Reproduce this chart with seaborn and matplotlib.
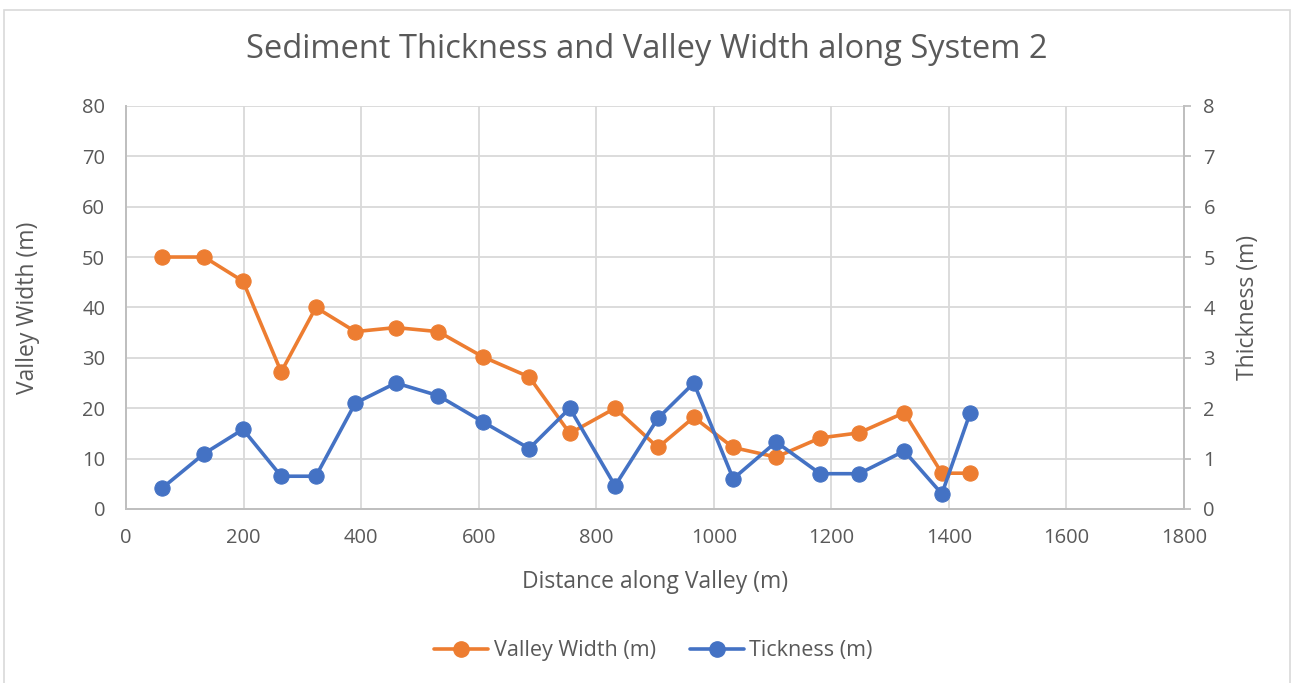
import numpy as np
import pandas as pd
import matplotlib
matplotlib.use("Agg")
import matplotlib.pyplot as plt
import seaborn as sns
from matplotlib.patches import Rectangle
from matplotlib.lines import Line2D

# Datos
distance = [61, 133, 199, 264, 323, 390, 459, 531, 607, 686, 755, 832, 905,
            966, 1033, 1106, 1181, 1247, 1324, 1388, 1436]
valley_width = [50, 50, 45.2, 27.2, 40, 35.2, 36, 35.2, 30.2, 26.2, 15, 20, 12.2,
                18.2, 12.2, 10.3, 14.1, 15.1, 19.1, 7.1, 7.1]
thickness = [0.41, 1.1, 1.58, 0.65, 0.65, 2.1, 2.5, 2.25, 1.73, 1.2, 2.0, 0.46, 1.8,
             2.5, 0.6, 1.33, 0.7, 0.7, 1.15, 0.3, 1.9]

ORANGE = "#ED7D31"
BLUE = "#4472C4"
TEXT = "#595959"
GRID = "#D9D9D9"

df = pd.DataFrame({"distance": distance, "width": valley_width, "thick": thickness})

sns.set_style("white")
plt.rcParams["font.family"] = ["Open Sans", "DejaVu Sans"]

fig = plt.figure(figsize=(12.94, 6.83), dpi=100)
ax = fig.add_axes([0.0974, 0.2548, 0.8176, 0.5902])
ax2 = ax.twinx()

sns.lineplot(data=df, x="distance", y="width", ax=ax, color=ORANGE, linewidth=2.6,
             marker="o", markersize=11, markeredgecolor=ORANGE, zorder=3)
sns.lineplot(data=df, x="distance", y="thick", ax=ax2, color=BLUE, linewidth=2.6,
             marker="o", markersize=11, markeredgecolor=BLUE, zorder=3)

ax.set_xlim(0, 1800)
ax.set_ylim(0, 80)
ax2.set_ylim(0, 8)
ax.set_xticks(np.arange(0, 1801, 200))
ax.set_yticks(np.arange(0, 81, 10))
ax2.set_yticks(np.arange(0, 9, 1))

ax.grid(True, color=GRID, linewidth=1.3)
ax.set_axisbelow(True)

for a in (ax, ax2):
    a.spines["top"].set_visible(False)
    for side in ["left", "bottom", "right"]:
        a.spines[side].set_color("#BFBFBF")
        a.spines[side].set_linewidth(1.3)

ax.tick_params(axis="y", colors=TEXT, labelsize=14.5, length=0, pad=15)
ax.tick_params(axis="x", colors=TEXT, labelsize=14.5, length=0, pad=14)
ax2.tick_params(axis="y", colors=TEXT, labelsize=14.5, length=5, width=1.3,
                color="#BFBFBF", pad=9)

ax.set_xlabel("Distance along Valley (m)", fontsize=16.5, color=TEXT)
ax.set_ylabel("Valley Width (m)", fontsize=16.5, color=TEXT)
ax2.set_ylabel("Thickness (m)", fontsize=16.5, color=TEXT)
ax.xaxis.set_label_coords(0.5, -0.152)
ax.yaxis.set_label_coords(-0.081, 0.5)
ax2.yaxis.set_label_coords(1.049, 0.5)

fig.suptitle("Sediment Thickness and Valley Width along System 2",
             fontsize=23.5, color=TEXT, y=0.927, va="center")

handles = [
    Line2D([], [], color=ORANGE, linewidth=2.6, marker="o", markersize=11),
    Line2D([], [], color=BLUE, linewidth=2.6, marker="o", markersize=11),
]
fig.legend(handles, ["Valley Width (m)", "Tickness (m)"], loc="center",
           bbox_to_anchor=(0.505, 0.047), ncol=2, frameon=False,
           fontsize=15.5, labelcolor=TEXT, handlelength=2.5, columnspacing=1.6,
           handletextpad=0.25)

# marco exterior del gráfico
fig.patches.append(Rectangle((0.003, -0.01), 0.994, 0.995, transform=fig.transFigure,
                             fill=False, edgecolor="#D9D9D9", linewidth=1.2))

fig.savefig("out.png", dpi=100)
